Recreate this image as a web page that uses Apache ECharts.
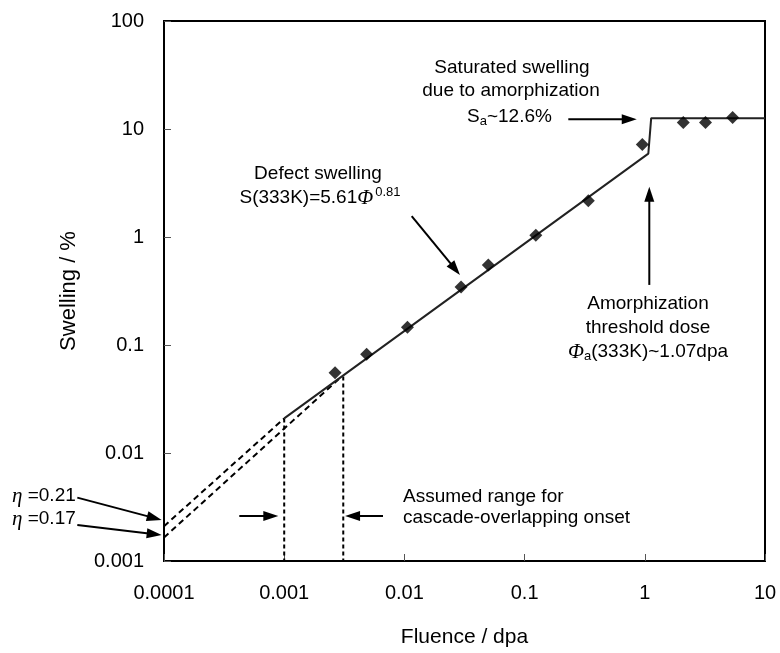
<!DOCTYPE html>
<html><head><meta charset="utf-8">
<script src="https://cdn.jsdelivr.net/npm/echarts@6/dist/echarts.min.js"></script>
<style>html,body{margin:0;padding:0;background:#fff}#c{width:780px;height:653px}</style>
</head><body><div id="c"></div>
<script>
// ---- data ----
const xTickLabels = ['0.0001', '0.001', '0.01', '0.1', '1', '10'];
const yTickLabels = ['0.001', '0.01', '0.1', '1', '10', '100'];
// measured swelling points (diamonds)
const fluence = [0.00265, 0.00485, 0.0106, 0.0296, 0.0499, 0.124, 0.339, 0.953, 2.09, 3.2, 5.38];
const swelling = [0.0554, 0.082, 0.146, 0.344, 0.55, 1.04, 2.17, 7.2, 11.5, 11.5, 12.8];
// defect swelling fit + saturation (solid)
const fitFluence = [0.001, 1.07, 1.13, 10];
const fitSwelling = [0.0209, 5.92, 12.6, 12.6];
// low-dose extrapolations (dashed)
const eta021Fluence = [0.0001, 0.001];
const eta021Swelling = [0.0021, 0.0209];
const eta017Fluence = [0.0001, 0.0029];
const eta017Swelling = [0.00165, 0.0492];
// assumed onset range (dotted verticals)
const onsetFluence = [0.001, 0.0031];
const onsetTop = [0.0209, 0.051];
const axisFloor = 0.001;

const FONT = '"Liberation Sans", Arial, sans-serif';
const SERIF = '"Liberation Serif", "Times New Roman", serif';

const chart = echarts.init(document.getElementById('c'), null, {renderer: 'canvas'});
const pairs = (xs, ys) => xs.map((x, i) => [x, ys[i]]);
const idx = v => Math.round(Math.log10(v));

const option = {
  animation: false,
  backgroundColor: '#fff',
  grid: {left: 164, right: 15, top: 21, bottom: 92, show: true, borderColor: '#000', borderWidth: 2,
         containLabel: false, outerBoundsMode: 'none'},
  xAxis: {
    type: 'log', logBase: 10, min: 0.0001, max: 10,
    axisLine: {show: true, lineStyle: {color: '#000', width: 2}},
    axisTick: {show: true, inside: true, length: 7, lineStyle: {color: '#555', width: 1}},
    minorTick: {show: false},
    splitLine: {show: false},
    axisLabel: {margin: 22, fontSize: 20, color: '#000', fontFamily: FONT,
      formatter: v => xTickLabels[idx(v) + 4]},
    name: 'Fluence / dpa', nameLocation: 'middle', nameGap: 66,
    nameTextStyle: {fontSize: 21, color: '#000', fontFamily: FONT}
  },
  yAxis: {
    type: 'log', logBase: 10, min: 0.001, max: 100,
    axisLine: {show: true, lineStyle: {color: '#000', width: 2}},
    axisTick: {show: true, inside: true, length: 7, lineStyle: {color: '#555', width: 1}},
    splitLine: {show: false},
    axisLabel: {margin: 20, fontSize: 20, color: '#000', fontFamily: FONT,
      formatter: v => yTickLabels[idx(v) + 3]},
    name: 'Swelling / %', nameLocation: 'middle', nameGap: 84,
    nameTextStyle: {fontSize: 22, color: '#000', fontFamily: FONT}
  },
  series: [
    {type: 'line', data: pairs(fitFluence, fitSwelling), symbol: 'none', z: 3,
     lineStyle: {color: '#222', width: 2}},
    {type: 'line', data: pairs(eta021Fluence, eta021Swelling), symbol: 'none', z: 2,
     lineStyle: {color: '#000', width: 2, type: [6, 4]}},
    {type: 'line', data: pairs(eta017Fluence, eta017Swelling), symbol: 'none', z: 2,
     lineStyle: {color: '#000', width: 2, type: [6, 4]}},
    {type: 'line', data: [[onsetFluence[0], onsetTop[0]], [onsetFluence[0], axisFloor]], symbol: 'none', z: 2,
     lineStyle: {color: '#000', width: 2, type: [4, 3]}},
    {type: 'line', data: [[onsetFluence[1], onsetTop[1]], [onsetFluence[1], axisFloor]], symbol: 'none', z: 2,
     lineStyle: {color: '#000', width: 2, type: [4, 3]}},
    {type: 'scatter', data: pairs(fluence, swelling), symbol: 'diamond', symbolSize: 13, z: 5,
     itemStyle: {color: '#000'}}
  ]
};
chart.setOption(option);

// ---- annotations ----
const arrows = [
  [[0.0115, 1.56], [0.029, 0.445]],
  [[0.231, 12.3], [0.857, 12.3]],
  [[1.09, 0.36], [1.09, 2.92]],
  [[1.9e-5, 0.00386], [9.56e-5, 0.0024]],
  [[1.9e-5, 0.00215], [9.56e-5, 0.00174]],
  [[0.000423, 0.00261], [0.000893, 0.00261]],
  [[0.00664, 0.00261], [0.00321, 0.00261]]
];
const g = [];
arrows.forEach(([a, b]) => {
  const p0 = chart.convertToPixel({gridIndex: 0}, a);
  const p1 = chart.convertToPixel({gridIndex: 0}, b);
  const dx = p1[0] - p0[0], dy = p1[1] - p0[1];
  const L = Math.hypot(dx, dy), ux = dx / L, uy = dy / L;
  const hl = 15, hw = 5;
  const bx = p1[0] - ux * hl, by = p1[1] - uy * hl;
  g.push({type: 'line', shape: {x1: p0[0], y1: p0[1], x2: bx + ux * 2, y2: by + uy * 2},
          style: {stroke: '#000', lineWidth: 2}, z: 10});
  g.push({type: 'polygon', shape: {points: [[p1[0], p1[1]], [bx - uy * hw, by + ux * hw], [bx + uy * hw, by - ux * hw]]},
          style: {fill: '#000'}, z: 10});
});
const T = (text, x, y, align, rich) => ({type: 'text', z: 10,
  style: {text, x, y, align: align || 'center', verticalAlign: 'middle', fontSize: 19, fontFamily: FONT, fill: '#000', rich: rich || undefined}});
const richPhi = {
  n: {fontSize: 19, fontFamily: FONT, fill: '#000'},
  phi: {fontSize: 21, fontFamily: SERIF, fontStyle: 'italic', fill: '#000'},
  sup: {fontSize: 13, fontFamily: FONT, fill: '#000', padding: [0, 0, 11, 2]},
  sub: {fontSize: 13, fontFamily: FONT, fill: '#000', padding: [9, 0, 0, 0]},
  eta: {fontSize: 21, fontFamily: SERIF, fontStyle: 'italic', fill: '#000'}
};
g.push(T('Defect swelling', 318, 174));
g.push(T('{n|S(333K)=5.61}{phi|Φ}{sup|0.81}', 320, 198, 'center', richPhi));
g.push(T('Saturated swelling', 512, 68));
g.push(T('due to amorphization', 511, 91));
g.push(T('{n|S}{sub|a}{n|~12.6%}', 467, 117, 'left', richPhi));
g.push(T('Amorphization', 648, 304));
g.push(T('threshold dose', 648, 328));
g.push(T('{phi|Φ}{sub|a}{n|(333K)~1.07dpa}', 648, 352, 'center', richPhi));
g.push(T('Assumed range for', 403, 497, 'left'));
g.push(T('cascade-overlapping onset', 403, 518, 'left'));
g.push(T('{eta|η}{n| =0.21}', 12, 496, 'left', richPhi));
g.push(T('{eta|η}{n| =0.17}', 12, 519, 'left', richPhi));
chart.setOption({graphic: g});
</script></body></html>
